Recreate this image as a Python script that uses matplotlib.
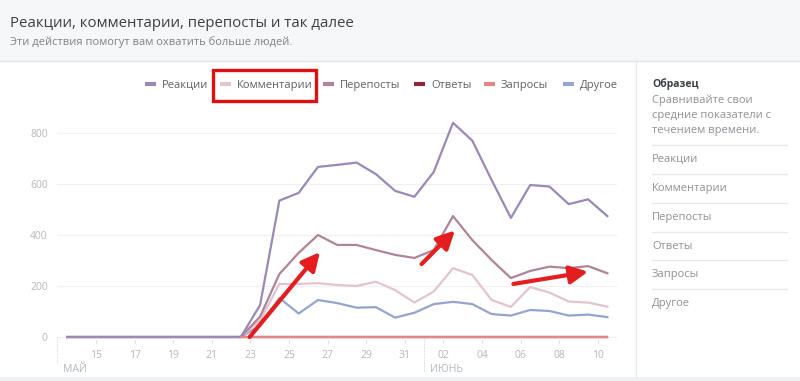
import numpy as np
import matplotlib
matplotlib.use("Agg")
import matplotlib.pyplot as plt
from matplotlib.patches import Rectangle
from matplotlib.lines import Line2D

plt.rcParams['font.family'] = ['Open Sans', 'DejaVu Sans']

# ---- data (May 13 .. June 10) ----
day_labels = ["15", "17", "19", "21", "23", "25", "27", "29", "31", "02", "04", "06", "08", "10"]
day_label_pos = [2, 4, 6, 8, 10, 12, 14, 16, 18, 20, 22, 24, 26, 28]
month_labels = ["МАЙ", "ИЮНЬ"]
month_pos = [0, 19]
series_names = ["Реакции", "Комментарии", "Перепосты", "Ответы", "Запросы", "Другое"]
series_colors = ["#9a89b6", "#e3c3d1", "#ae8499", "#8e2637", "#e48686", "#96a4cf"]

reactions = [0] * 10 + [125, 535, 565, 667, 675, 684, 639, 573, 550,
                        647, 840, 770, 616, 467, 596, 590, 521, 540, 474]
comments = [0] * 10 + [65, 208, 208, 211, 204, 200, 217, 184, 135,
                       178, 270, 243, 145, 118, 196, 174, 139, 135, 119]
reposts = [0] * 10 + [80, 247, 330, 400, 361, 361, 341, 322, 310,
                      341, 474, 380, 302, 231, 259, 276, 270, 278, 250]
answers = [np.nan] * 9 + [0] * 20
requests = [np.nan] * 9 + [0] * 20
other = [0] * 10 + [45, 153, 92, 145, 133, 115, 117, 76, 95,
                    129, 138, 129, 90, 84, 106, 102, 84, 88, 78]
yticks = [0, 200, 400, 600, 800]

sidebar_title = "Образец"
sidebar_text = ["Сравнивайте свои", "средние показатели с", "течением времени."]

W, H = 800, 381
fig = plt.figure(figsize=(W / 100, H / 100), dpi=100)
fig.patch.set_facecolor("white")

def fx(px):
    return px / W

def fy(py):
    return 1 - py / H

# header background
fig.patches.append(Rectangle((0, fy(61)), 1, 61 / H, transform=fig.transFigure,
                             facecolor="#f6f7f9", edgecolor="none", zorder=0))
fig.add_artist(Line2D([0, 1], [fy(61), fy(61)], transform=fig.transFigure,
                      color="#e3e4e6", lw=1))
fig.patches.append(Rectangle((0, 0), 1, 4 / H, transform=fig.transFigure,
                             facecolor="#f0f1f3", edgecolor="none", zorder=0))
fig.add_artist(Line2D([fx(636), fx(636)], [fy(61), fy(377)], transform=fig.transFigure,
                      color="#e6e7e9", lw=1))

fig.text(fx(10), fy(27), "Реакции, комментарии, перепосты и так далее",
         fontsize=10.8, color="#3c3f45", va="baseline", ha="left")
fig.text(fx(10), fy(45), "Эти действия помогут вам охватить больше людей.",
         fontsize=8, color="#7d8187", va="baseline", ha="left")

# ---- axes ----
ax_l, ax_r, ax_b, ax_t = 57.5, 617, 340, 115
ax = fig.add_axes([fx(ax_l), fy(ax_b), (ax_r - ax_l) / W, (ax_b - ax_t) / H])
ax.set_facecolor("none")
x = np.arange(len(reactions)) + 0.5
ax.set_xlim(0, 29)
ax.set_ylim(-3 / 0.255, 222 / 0.255)

order = [5, 1, 2, 0, 3, 4]
data = [reactions, comments, reposts, answers, requests, other]
for i in order:
    ax.plot(x, data[i], color=series_colors[i], lw=1.6, zorder=3 + order.index(i),
            solid_joinstyle="round")

ax.set_yticks(yticks)
ax.set_yticklabels([str(v) for v in yticks], fontsize=7.5, color="#b5b7bb")
ax.grid(axis="y", color="#f1f1f3", lw=0.9)
ax.set_xticks(day_label_pos)
ax.set_xticklabels(day_labels, fontsize=7.5, color="#b5b7bb")
ax.tick_params(axis="x", length=2, color="#dddddd", pad=5)
ax.tick_params(axis="y", length=0, pad=7)
for s in ax.spines.values():
    s.set_visible(False)

# month separators
for p, lab, ext in zip(month_pos, month_labels, [26, 35]):
    ax.plot([p, p], [0, 0 - ext / 0.255], color="#d8d8da", lw=0.8, ls=(0, (1, 1)),
            clip_on=False)
    ax.text(p + 0.3, -35 / 0.255, lab, fontsize=7.5, color="#b5b7bb",
            ha="left", va="baseline", clip_on=False)

# red arrows (annotations)
arrows = [((9.96, 0), (13.6, 333)), ((18.87, 286), (20.6, 418)), ((23.63, 208), (27.5, 256))]
for (s, e) in arrows:
    ax.annotate("", xy=e, xytext=s,
                arrowprops=dict(arrowstyle="-|>,head_length=0.9,head_width=0.45",
                                lw=3, color="#e41e1e", mutation_scale=12,
                                shrinkA=0, shrinkB=0), zorder=10)

# ---- legend ----
leg_x = [145, 220, 323, 414, 484, 563]
leg_y = 84
for name, col, lx in zip(series_names, series_colors, leg_x):
    fig.add_artist(Line2D([fx(lx), fx(lx + 11)], [fy(leg_y), fy(leg_y)],
                          transform=fig.transFigure, color=col, lw=3,
                          solid_capstyle="butt"))
    fig.text(fx(lx + 17), fy(leg_y + 4), name, fontsize=8, color="#5d6067",
             va="baseline", ha="left")

# red box around legend item
fig.patches.append(Rectangle((fx(213), fy(101)), 103 / W, 31 / H,
                             transform=fig.transFigure, facecolor="none",
                             edgecolor="#e01010", lw=2.4, zorder=10))

# ---- sidebar ----
fig.text(fx(652), fy(87), sidebar_title, fontsize=7.5, fontweight="bold",
         color="#3c3f45", va="baseline", ha="left")
for k, t in enumerate(sidebar_text):
    fig.text(fx(652), fy(103 + 15 * k), t, fontsize=8, color="#8d9096",
             va="baseline", ha="left")
sep_y = [145, 174, 203, 232, 260, 289]
for k, (name, sy) in enumerate(zip(series_names, sep_y)):
    fig.add_artist(Line2D([fx(652), fx(787)], [fy(sy), fy(sy)],
                          transform=fig.transFigure, color="#e6e7e9", lw=0.9))
    fig.text(fx(652), fy(sy + 17), name, fontsize=8, color="#8d9096",
             va="baseline", ha="left")

fig.savefig("out.png", dpi=100)
